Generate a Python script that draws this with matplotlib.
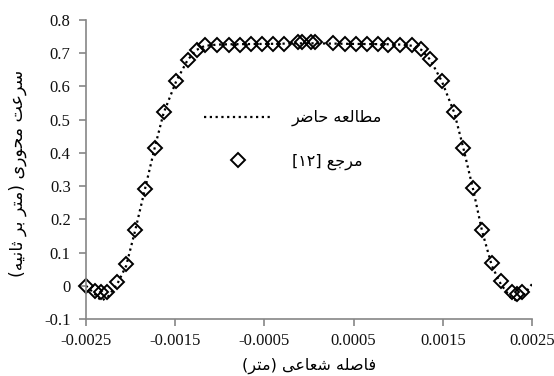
import re
import matplotlib
matplotlib.use('Agg')
import matplotlib.pyplot as plt

# reference [12] (diamonds)
ref_x = [-0.0025, -0.0024, -0.00233, -0.00226, -0.00215, -0.00205, -0.00195, -0.00184,
         -0.00173, -0.00163, -0.00149, -0.00136, -0.00126, -0.00117, -0.00103, -0.0009,
         -0.00077, -0.00065, -0.00053, -0.0004, -0.00028, -0.00012, -0.00008, 0.00002,
         0.00007, 0.00027, 0.0004, 0.00053, 0.00065, 0.00077, 0.00089, 0.00102, 0.00115,
         0.00126, 0.00136, 0.00149, 0.00163, 0.00173, 0.00184, 0.00194, 0.00205, 0.00215,
         0.00228, 0.00233, 0.00239]
ref_y = [0.0, -0.015, -0.02, -0.02, 0.012, 0.066, 0.169, 0.292,
         0.416, 0.522, 0.617, 0.68, 0.71, 0.724, 0.726, 0.726,
         0.726, 0.727, 0.727, 0.728, 0.729, 0.733, 0.735, 0.733,
         0.733, 0.73, 0.729, 0.728, 0.727, 0.727, 0.726, 0.726, 0.724,
         0.714, 0.684, 0.617, 0.522, 0.416, 0.295, 0.169, 0.07, 0.015,
         -0.02, -0.025, -0.018]

# present study (dotted line)
line_x = [-0.0025, -0.0024, -0.00233, -0.00226, -0.00215, -0.00205, -0.00195, -0.00184,
          -0.00173, -0.00163, -0.00149, -0.00136, -0.00126, -0.00117, -0.00103, -0.0009,
          -0.0005, 0.0, 0.0005, 0.0009, 0.00103, 0.00117, 0.00126, 0.00136, 0.00149,
          0.00163, 0.00173, 0.00184, 0.00194, 0.00205, 0.00215, 0.00226, 0.00233, 0.0024,
          0.0025]
line_y = [0.0, -0.025, -0.045, -0.035, 0.005, 0.06, 0.165, 0.29,
          0.415, 0.52, 0.615, 0.68, 0.71, 0.722, 0.726, 0.727,
          0.728, 0.73, 0.728, 0.727, 0.726, 0.722, 0.71, 0.68, 0.615,
          0.52, 0.415, 0.29, 0.165, 0.06, 0.005, -0.035, -0.045, -0.03,
          0.005]

xticks = [-0.0025, -0.0015, -0.0005, 0.0005, 0.0015, 0.0025]
xtick_labels = ['-0.0025', '-0.0015', '-0.0005', '0.0005', '0.0015', '0.0025']
yticks = [-0.1, 0, 0.1, 0.2, 0.3, 0.4, 0.5, 0.6, 0.7, 0.8]
ytick_labels = ['-0.1', '0', '0.1', '0.2', '0.3', '0.4', '0.5', '0.6', '0.7', '0.8']

label_line = 'مطالعه حاضر'
label_ref = 'مرجع [۱۲]'
xlabel = 'فاصله شعاعی (متر)'
ylabel = 'سرعت محوری (متر بر ثانیه)'

# isolated, final, initial, medial presentation forms
FORMS = {
  'ا': ('\uFE8D', '\uFE8E'),
  'ر': ('\uFEAD', '\uFEAE'),
  'و': ('\uFEED', '\uFEEE'),
  'ب': ('\uFE8F', '\uFE90', '\uFE91', '\uFE92'),
  'ت': ('\uFE95', '\uFE96', '\uFE97', '\uFE98'),
  'ث': ('\uFE99', '\uFE9A', '\uFE9B', '\uFE9C'),
  'ج': ('\uFE9D', '\uFE9E', '\uFE9F', '\uFEA0'),
  'ح': ('\uFEA1', '\uFEA2', '\uFEA3', '\uFEA4'),
  'س': ('\uFEB1', '\uFEB2', '\uFEB3', '\uFEB4'),
  'ش': ('\uFEB5', '\uFEB6', '\uFEB7', '\uFEB8'),
  'ص': ('\uFEB9', '\uFEBA', '\uFEBB', '\uFEBC'),
  'ض': ('\uFEBD', '\uFEBE', '\uFEBF', '\uFEC0'),
  'ط': ('\uFEC1', '\uFEC2', '\uFEC3', '\uFEC4'),
  'ع': ('\uFEC9', '\uFECA', '\uFECB', '\uFECC'),
  'ف': ('\uFED1', '\uFED2', '\uFED3', '\uFED4'),
  'ل': ('\uFEDD', '\uFEDE', '\uFEDF', '\uFEE0'),
  'م': ('\uFEE1', '\uFEE2', '\uFEE3', '\uFEE4'),
  'ن': ('\uFEE5', '\uFEE6', '\uFEE7', '\uFEE8'),
  'ه': ('\uFEE9', '\uFEEA', '\uFEEB', '\uFEEC'),
  'ی': ('\uFBFC', '\uFBFD', '\uFBFE', '\uFBFF'),
}


def rtl(text):
  # shape the letters and put them in visual (left to right) order
  out = []
  for i, c in enumerate(text):
    if c not in FORMS:
      out.append(c)
      continue
    prev = text[i-1] if i > 0 else ''
    nxt = text[i+1] if i + 1 < len(text) else ''
    p = prev in FORMS and len(FORMS[prev]) == 4
    n = len(FORMS[c]) == 4 and nxt in FORMS
    f = FORMS[c]
    if p and n:
      out.append(f[3])
    elif p:
      out.append(f[1])
    elif n:
      out.append(f[2])
    else:
      out.append(f[0])
  s = ''.join(out)[::-1]
  s = s.translate(str.maketrans('()[]', ')(]['))
  s = re.sub('[۰-۹]+', lambda m: m.group(0)[::-1], s)
  return s


def drawFig():
  plt.rcParams['font.family'] = ['Liberation Serif', 'DejaVu Sans']
  plt.rcParams['axes.unicode_minus'] = False
  fa = ['DejaVu Sans']

  fig = plt.figure(figsize=(5.54, 3.76), dpi=100)
  ax = fig.add_axes([86/554, 1 - 319/376, 446/554, 299/376])

  l1, = ax.plot(line_x, line_y, color='black', linestyle=(0, (1, 1.6)), linewidth=1.6)
  l2, = ax.plot(ref_x, ref_y, linestyle='none', marker='D', markersize=6.8,
                markerfacecolor='none', markeredgecolor='black', markeredgewidth=1.4,
                clip_on=False)

  ax.set_xlim(-0.0025, 0.0025)
  ax.set_ylim(-0.1, 0.8)
  ax.set_xticks(xticks)
  ax.set_xticklabels(xtick_labels)
  ax.set_yticks(yticks)
  ax.set_yticklabels(ytick_labels)
  for s in ['top', 'right']:
    ax.spines[s].set_visible(False)
  for s in ['left', 'bottom']:
    ax.spines[s].set_color('#868686')
    ax.spines[s].set_linewidth(1.2)
  ax.tick_params(direction='out', length=5, width=1.2, color='#868686',
                 labelsize=12, labelcolor='#111111')
  ax.tick_params(axis='x', pad=5)
  ax.tick_params(axis='y', pad=6)

  fig.text(309/554, 1 - 366/376, rtl(xlabel), ha='center', va='center',
           fontsize=11.5, family=fa)
  fig.text(18/554, 1 - 173/376, rtl(ylabel), ha='center', va='center',
           rotation=90, fontsize=12.5, family=fa)

  le = ax.legend([l1, l2], [rtl(label_line), rtl(label_ref)], loc='center',
                 bbox_to_anchor=(293/554, 1 - 140/376), bbox_transform=fig.transFigure,
                 frameon=False, numpoints=1, handlelength=4.3, handletextpad=1.2,
                 labelspacing=1.7, prop={'family': fa, 'size': 11.5})

  fig.savefig('out.png', dpi=100)


def main():
  drawFig()


if __name__ == "__main__":
  main()
